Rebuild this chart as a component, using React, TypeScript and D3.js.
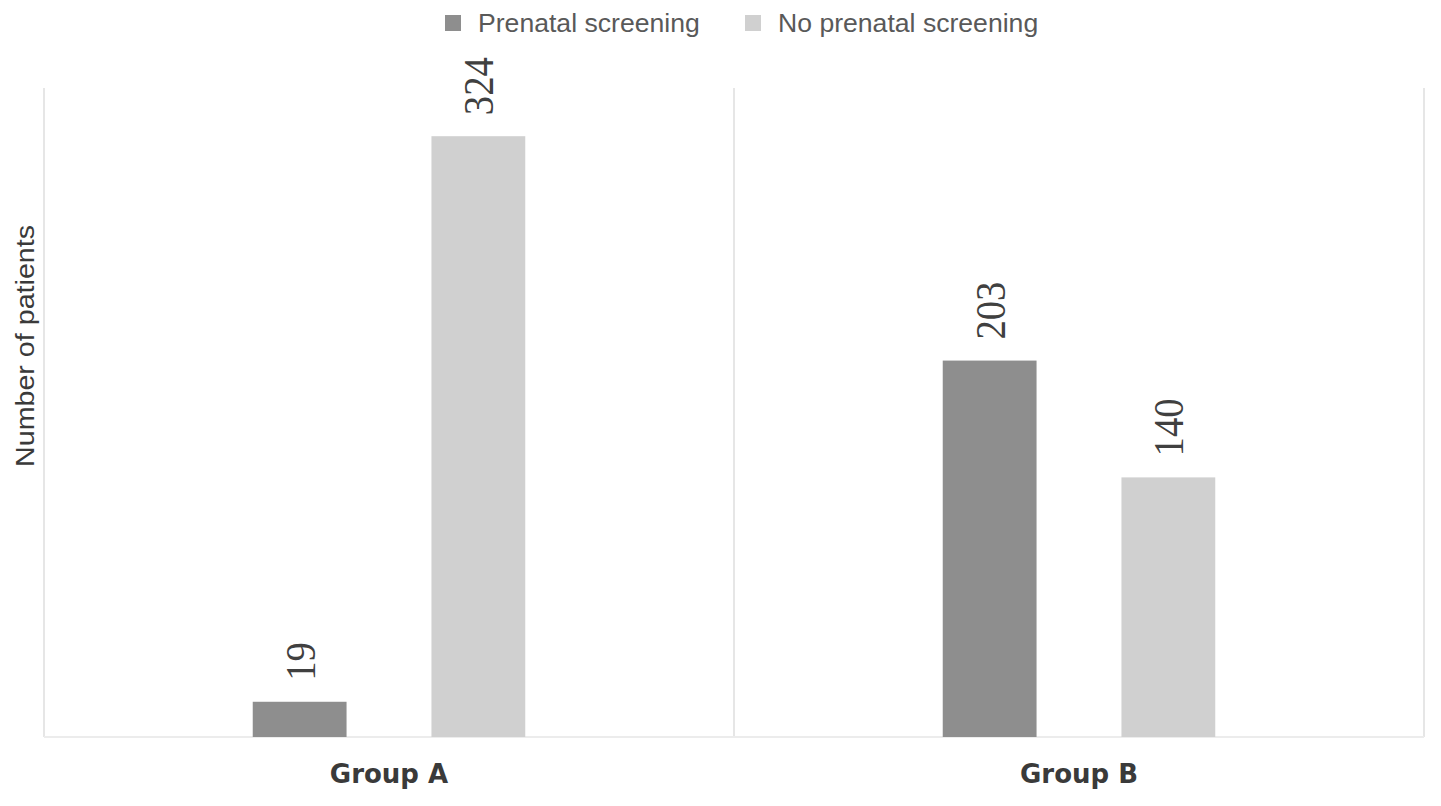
import React from "react";
import * as d3 from "d3";

const groups = ["Group A", "Group B"];
const seriesNames = ["Prenatal screening", "No prenatal screening"];
const prenatal = [19, 203];
const noPrenatal = [324, 140];
const seriesColors = ["#8e8e8e", "#d0d0d0"];
const yMax = 350;

const W = 1441;
const H = 806;
const M = { left: 44, right: 1424, top: 88, bottom: 737 };

export default function App() {
  const x0 = d3.scaleBand<string>().domain(groups).range([M.left, M.right]).padding(0);
  const x1 = d3
    .scaleBand<string>()
    .domain(seriesNames)
    .range([0, x0.bandwidth()])
    .paddingInner(0.475)
    .paddingOuter(1.168);
  const y = d3.scaleLinear().domain([0, yMax]).range([M.bottom, M.top]);

  const seriesValues = [prenatal, noPrenatal];

  const gridXs = [M.left, ...groups.map((g) => (x0(g) as number) + x0.bandwidth())];

  return (
    <svg
      width={W}
      height={H}
      style={{ position: "absolute", left: 0, top: 0, background: "#fff" }}
    >
      {/* vertical separators */}
      {gridXs.map((gx, i) => (
        <line key={i} x1={gx} x2={gx} y1={M.top} y2={M.bottom} stroke="#e6e6e6" strokeWidth={2} />
      ))}
      {/* bottom axis */}
      <line x1={M.left} x2={M.right} y1={M.bottom} y2={M.bottom} stroke="#ececec" strokeWidth={2} />

      {/* bars */}
      {groups.map((g, gi) =>
        seriesNames.map((s, si) => {
          const v = seriesValues[si][gi];
          const bx = (x0(g) as number) + (x1(s) as number);
          const bw = x1.bandwidth();
          const by = y(v);
          const cx = bx + bw / 2;
          return (
            <g key={g + s}>
              <rect x={bx} y={by} width={bw} height={M.bottom - by} fill={seriesColors[si]} />
              <text
                transform={`translate(${cx + 15},${by - 21}) rotate(-90) scale(0.9,1)`}
                fontFamily="'Liberation Serif', 'Times New Roman', serif"
                fontSize={43}
                fill="#404040"
                textAnchor="start"
              >
                {v}
              </text>
            </g>
          );
        })
      )}

      {/* category labels */}
      {groups.map((g) => (
        <text
          key={g}
          x={(x0(g) as number) + x0.bandwidth() / 2}
          y={783}
          textAnchor="middle"
          fontFamily="'DejaVu Sans', sans-serif"
          fontWeight="bold"
          fontSize={26}
          fill="#3a3a3a"
        >
          {g}
        </text>
      ))}

      {/* y axis title */}
      <text
        transform={`translate(34,346) rotate(-90)`}
        textAnchor="middle"
        fontFamily="'Liberation Sans', Arial, sans-serif"
        fontSize={25}
        fill="#3a3a3a"
        textLength={242}
        lengthAdjust="spacingAndGlyphs"
      >
        Number of patients
      </text>

      {/* legend */}
      {seriesNames.map((s, i) => {
        const lx = [445, 745][i];
        return (
          <g key={s}>
            <rect x={lx} y={15} width={16} height={16} fill={seriesColors[i]} />
            <text
              x={lx + 33}
              y={32}
              fontFamily="'Liberation Sans', Arial, sans-serif"
              fontSize={26.6}
              fill="#595959"
            >
              {s}
            </text>
          </g>
        );
      })}
    </svg>
  );
}
